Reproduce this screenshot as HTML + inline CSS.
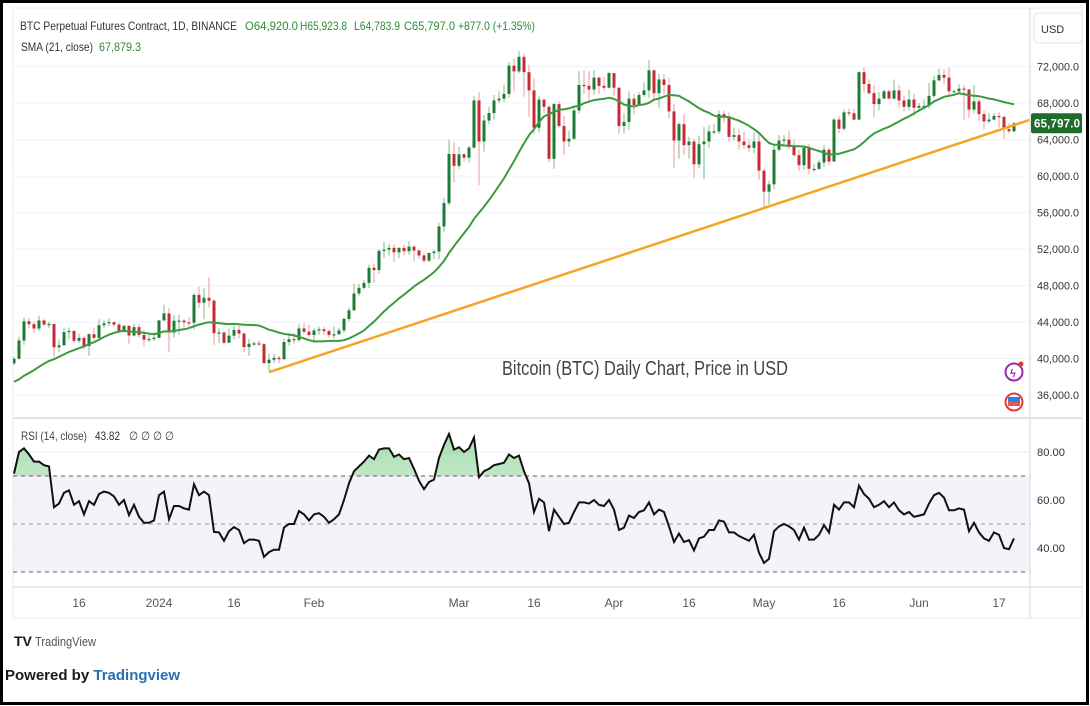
<!DOCTYPE html>
<html><head><meta charset="utf-8"><style>
html,body{margin:0;padding:0;background:#fff;}
body{width:1090px;height:706px;overflow:hidden;position:relative;font-family:"Liberation Sans",sans-serif;}
svg{position:absolute;left:0;top:0;}
</style></head><body>
<svg id="chart" width="1090" height="706" viewBox="0 0 1090 706">
<defs>
<linearGradient id="ob" x1="0" y1="0" x2="0" y2="1"><stop offset="0" stop-color="#3cb44b" stop-opacity="0.45"/><stop offset="1" stop-color="#3cb44b" stop-opacity="0.03"/></linearGradient>
<clipPath id="above70"><rect x="13" y="418" width="1017" height="58"/></clipPath>
<clipPath id="pricepane"><rect x="13" y="8" width="1017" height="409"/></clipPath>
</defs>
<rect x="1.5" y="1.5" width="1086" height="702" fill="#fff" stroke="#000" stroke-width="3"/>
<rect x="13" y="8" width="1069" height="610" fill="#fff" stroke="#e6e8ee" stroke-width="1"/>
<g id="grid"></g>
<rect x="13" y="476" width="1017" height="96" fill="#7e57c2" fill-opacity="0.08"/>
<g id="rsigrid"></g>
<g id="candles" clip-path="url(#pricepane)"></g>
<path id="sma" fill="none" stroke="#3b9a3f" stroke-width="2"/>
<line id="trend" stroke="#f7a325" stroke-width="2.5"/>
<path id="rsiFill" fill="url(#ob)" clip-path="url(#above70)"/>
<path id="rsiLine" fill="none" stroke="#111" stroke-width="2"/>
<line x1="13" y1="418" x2="1082" y2="418" stroke="#e0e3eb" stroke-width="2"/>
<line x1="13" y1="587" x2="1082" y2="587" stroke="#e0e3eb" stroke-width="1.5"/>
<line x1="1030" y1="8" x2="1030" y2="618" stroke="#e0e3eb" stroke-width="1.5"/>
<g id="axisLabels" font-size="11" fill="#333"></g>
<g id="timeLabels" font-size="12" fill="#555"></g>
<rect x="1034" y="13" width="48" height="30" rx="4" fill="#fff" stroke="#e0e3eb"/>
<text x="1041" y="33" font-size="11" fill="#333">USD</text>
<rect id="lastBox" x="1031" y="113" width="51" height="20" rx="2" fill="#1f6b2b"/>
<text id="lastText" x="1034" y="127" font-size="11.5" font-weight="bold" fill="#fff" textLength="46">65,797.0</text>
<g font-size="12">
<text x="20" y="30" fill="#333" textLength="217" lengthAdjust="spacingAndGlyphs">BTC Perpetual Futures Contract, 1D, BINANCE</text>
<text x="245" y="30" fill="#2e8b3a" textLength="53" lengthAdjust="spacingAndGlyphs">O64,920.0</text>
<text x="300" y="30" fill="#2e8b3a" textLength="47" lengthAdjust="spacingAndGlyphs">H65,923.8</text>
<text x="354" y="30" fill="#2e8b3a" textLength="46" lengthAdjust="spacingAndGlyphs">L64,783.9</text>
<text x="404" y="30" fill="#2e8b3a" textLength="51" lengthAdjust="spacingAndGlyphs">C65,797.0</text>
<text x="458" y="30" fill="#2e8b3a" textLength="77" lengthAdjust="spacingAndGlyphs">+877.0 (+1.35%)</text>
<text x="21" y="51" fill="#333" textLength="72" lengthAdjust="spacingAndGlyphs">SMA (21, close)</text>
<text x="99" y="51" fill="#2e8b3a" textLength="42" lengthAdjust="spacingAndGlyphs">67,879.3</text>
</g>
<text x="502" y="375" font-size="20" fill="#444" textLength="286" lengthAdjust="spacingAndGlyphs" font-family="'Liberation Sans Narrow','Liberation Sans',sans-serif">Bitcoin (BTC) Daily Chart, Price in USD</text>
<g><circle cx="1014" cy="372" r="8.5" fill="#fff" stroke="#9c27b0" stroke-width="2"/><text x="1010" y="377" font-size="11" fill="#9c27b0" font-weight="bold">ϟ</text><circle cx="1021" cy="364" r="2.5" fill="#e53935"/></g>
<g><circle cx="1014" cy="402" r="8.5" fill="#fff" stroke="#e53935" stroke-width="2"/><rect x="1008" y="397" width="12" height="5" fill="#1e88e5"/><rect x="1008" y="402" width="12" height="4" fill="#ef5350"/></g>
<text x="21" y="440" font-size="12" fill="#444" textLength="66" lengthAdjust="spacingAndGlyphs">RSI (14, close)</text>
<text x="95" y="440" font-size="12" fill="#333" textLength="25" lengthAdjust="spacingAndGlyphs">43.82</text>
<text x="129" y="440" font-size="12" fill="#444" textLength="45" lengthAdjust="spacingAndGlyphs">∅ ∅ ∅ ∅</text>
<g><text x="14" y="646" font-size="14" font-weight="bold" fill="#131722">TV</text><text x="35" y="646" font-size="13" fill="#555" textLength="61" lengthAdjust="spacingAndGlyphs">TradingView</text></g>
<text x="5" y="680" font-size="15" font-weight="bold" fill="#1a1a1a">Powered by <tspan fill="#2a6fb5">Tradingview</tspan></text>
</svg>
<script>
var NS="http://www.w3.org/2000/svg";
var closes=[39970,41980,44080,43770,43290,44170,43720,43790,41240,41450,42890,43020,41940,42260,41370,42660,42270,43650,43860,43990,43720,43010,43580,42520,43440,42580,42070,42140,42280,
44180,44950,42850,44150,44160,43970,43930,46970,46120,46660,46340,42780,42850,41730,42510,43140,42740,41260,41620,41660,41570,39500,39870,40080,39930,41810,42120,42030,43300,42940,42580,
43080,43200,43010,42580,42660,43090,44340,45290,47130,47750,48290,49950,49700,51800,51930,52130,51650,52130,51770,52260,51850,51300,50730,51570,51730,54480,57040,62430,61130,
62390,62030,63130,68300,63800,66100,66920,68300,68500,69020,72120,71480,73080,71400,69400,65300,68390,67600,61900,67900,65500,63800,64100,67200,70000,69900,69500,70800,69900,69700,71300,
69700,65500,65950,68500,67800,68900,69400,71600,69100,70600,70000,67100,63900,65700,63400,63800,61300,63500,63800,64900,64900,66800,66400,64300,64500,63800,63400,63100,63800,60600,
58300,59100,62900,63900,64000,63200,62300,61200,63100,60800,60800,61500,62900,61600,66200,65200,67000,66900,66200,71400,70100,69100,67900,68500,69300,68500,69400,68300,67600,68400,67500,
67700,67700,68800,70500,71100,70800,69300,69300,69600,69500,67300,68200,66800,66000,66200,66600,66500,65150,64920,65797];
var highs=[40200,42400,44500,44400,44000,44700,44300,44000,43800,42100,43400,43400,43100,42700,42450,42800,43400,44300,44200,44400,44000,43900,43700,43700,43800,43800,43100,42600,42900,
44200,45900,45500,44800,44800,44300,44500,47200,47900,47700,48900,46500,43300,43000,43300,43600,43600,42900,42200,41900,42000,41700,40500,40500,40300,42200,42800,42800,43800,43900,43700,
43300,43500,43500,43200,43500,43400,44500,45600,48200,48200,48600,50300,50400,52000,52800,52600,52500,52200,52500,52900,52400,52000,51500,51600,51900,54900,57600,64000,63700,
63200,62500,63300,68800,69200,66700,67600,68900,69300,70000,72500,72900,73700,73400,72200,70700,68800,68400,67800,68000,68200,66600,65000,67600,71500,71600,71500,71600,70900,70900,71400,
71300,69700,66900,69300,69000,69200,70300,72700,71700,71200,71200,70800,67900,65900,66800,64300,64100,64400,65400,65600,65700,67200,67200,67000,65300,65200,64900,64000,64800,64700,
60800,59500,63400,64500,64500,65000,64000,62900,63300,63500,61300,61800,63400,63100,66400,66600,67300,67400,67400,71500,71900,70600,70000,69200,69500,69500,70600,70000,68800,69500,69000,
68000,68400,70200,71000,71800,71700,71900,69500,70100,70000,69600,70000,68500,67200,66900,66900,67000,66600,65800,65923];
var lows=[39300,39900,41500,43300,42800,43000,43600,43300,40200,40700,41400,42100,41700,41700,41000,40300,42000,42200,43300,43600,43500,42800,42800,41600,42400,42300,41300,41800,41900,
42200,44100,40700,42300,42600,43400,43500,43200,45500,44300,45600,41500,41700,41500,41700,42100,42200,40700,40300,41400,41400,39400,38600,39500,39500,39800,41400,41600,41800,42700,42300,
41900,42600,42600,42300,42200,42600,42800,44100,45200,46900,47600,47700,48300,49300,51000,51300,50600,51000,51300,51400,50700,50900,50500,50600,50900,50900,53900,56800,59300,
60800,61600,61500,63000,59000,62700,65700,66200,68000,68100,68600,69300,71300,68700,66500,64600,64800,66900,61500,60800,65300,62300,63200,64000,66900,69000,68300,68900,69000,69400,69600,
68800,64600,64700,65100,66800,67700,68700,68600,68200,67500,69000,66300,60900,61900,62300,61900,59800,60900,59700,63100,64600,64600,65900,63800,63900,62900,63000,62600,62500,59600,
56500,56900,58600,62700,63400,62900,62100,60600,60700,60200,60500,60700,61000,61200,61600,64700,65000,66600,66100,66100,69200,68900,66500,67200,68500,68600,68400,67500,67100,67200,66600,
67300,67300,67400,68600,70400,70100,68700,69200,69100,66200,66400,66900,66100,65100,65800,66100,65300,64100,64700,64783];
var firstOpen=39460;
var priorCloses=[36480,35550,37880,36160,36590,36590,37380,37470,35810,37420,37290,37720,37800,37480,37250,37830,37860,37720,38690,39460];
var rsiValues=[71,80,81.5,79,76,76,74.5,74,57,58.5,63,64,58,59.5,54,59.5,58,62.5,63.5,63,61.5,58,60,53.7,58,53,50.5,50.5,51.5,62,63.5,52,57.5,57.5,56.5,56,66.6,62,63.5,62,46.7,46.5,43,47,48.7,47.5,42,43.5,43.5,43,36.3,38.3,39.3,39.3,48.5,50,50,55.4,54,51.5,54,54.5,53,50.5,52,54,60,67,72,74,76,78.5,77,81,81.5,81.5,78,79,77,77.5,73,68,64.5,67.5,68.5,77.5,83,87.5,81,82,80,81.5,86,69.5,72,73,74.5,75,75.5,79,77.5,78.5,72,67,55,60.5,59,47,56,53,50,50.5,55,59,59,58.5,60,58,57.5,60,56,47.5,48.5,53.5,52.5,55,55.7,59,54,56,55,49,42.5,46,42.5,43.3,39,44,44.7,47.5,47.5,51.5,51,46.5,46.5,45,44,43,45.5,38,33.8,35.5,47,49,50,49,47.5,43.5,48.5,43.5,43.5,45.5,49.5,46.5,58,56,59,59,57,66,62.5,60.5,57,58,59.5,57,59,55.7,54,55,53,53.5,54,58.5,62,63,61,55.7,55.7,56.5,56,47,50.5,46.5,44,43,46.5,45.5,40,39.5,44];
var priceTicks=[72000,68000,64000,60000,56000,52000,48000,44000,40000,36000];
var priceTickLabels=["72,000.0","68,000.0","64,000.0","60,000.0","56,000.0","52,000.0","48,000.0","44,000.0","40,000.0","36,000.0"];
var rsiTicks=[80,60,40];
var rsiTickLabels=["80.00","60.00","40.00"];
var rsiLevels=[70,50,30];
var timeTickIdx=[13,29,44,60,89,104,120,135,150,165,181,197];
var timeTickLabels=["16","2024","16","Feb","Mar","16","Apr","16","May","16","Jun","17"];
var trendIdx=[51,150];
var trendPrice=[38500,56500];
var smaPeriod=21;

function xOf(i){return 14+i*5;}
function yP(p){return 66.7+(72000-p)*(328.3/36000);}
function yR(v){return 452+(80-v)*2.4;}
function mk(tag,attrs,parent){var e=document.createElementNS(NS,tag);for(var k in attrs)e.setAttribute(k,attrs[k]);parent.appendChild(e);return e;}

var grid=document.getElementById('grid');
var axl=document.getElementById('axisLabels');
priceTicks.forEach(function(p,k){
  var l=mk('line',{x1:13,x2:1030,y1:yP(p),y2:yP(p),stroke:'#f0f3fa','stroke-width':1},grid);
  
  
  var t=mk('text',{x:1037,y:yP(p)+4,textLength:42,lengthAdjust:'spacingAndGlyphs'},axl);
  t.textContent=priceTickLabels[k];
  
  
});
var rg=document.getElementById('rsigrid');
rsiTicks.forEach(function(v,k){
  var l=mk('line',{x1:13,x2:1030,y1:yR(v),y2:yR(v),stroke:'#eceef4','stroke-width':1},rg);
  
  
  var t=mk('text',{x:1037,y:yR(v)+4,textLength:28,lengthAdjust:'spacingAndGlyphs'},axl);
  t.textContent=rsiTickLabels[k];
  
  
});
rsiLevels.forEach(function(v){
  var l=mk('line',{x1:13,x2:1030,y1:yR(v),y2:yR(v),stroke:(v===50?'#aaa':'#787b86'),'stroke-width':1.2,'stroke-dasharray':'4 4'},rg);
  
  
});
var tl=document.getElementById('timeLabels');
timeTickIdx.forEach(function(i,k){
  var t=mk('text',{x:xOf(i),y:607,'text-anchor':'middle'},tl);
  t.textContent=timeTickLabels[k];
  
  
});

var cg=document.getElementById('candles');
for(var i=0;i<closes.length;i++){
  var o=i===0?firstOpen:closes[i-1], c=closes[i];
  var h=Math.max(highs[i]||c,o,c), lo=Math.min(lows[i]||c,o,c);
  var up=c>=o, col=up?'#1e7b34':'#c62b35', wcol=up?'#7fb98a':'#e79aa0';
  var x=xOf(i);
  var w=mk('line',{x1:x,x2:x,y1:yP(h),y2:yP(lo),stroke:wcol,'stroke-width':1},cg);
  
  
  var yt=yP(Math.max(o,c)), yb=yP(Math.min(o,c));
  var b=mk('rect',{x:x-1.5,y:yt,width:3,height:Math.max(1.2,yb-yt),fill:col},cg);
  
  
}
// SMA 21
var all=priorCloses.concat(closes), d='';
for(var i=0;i<closes.length;i++){
  var j=i+priorCloses.length, s=0, n=0;
  for(var k=Math.max(0,j-smaPeriod+1);k<=j;k++){s+=all[k];n++;}
  d+=(i?'L':'M')+xOf(i)+' '+yP(s/n).toFixed(1);
}
document.getElementById('sma').setAttribute('d',d);
// trendline
var slope=(trendPrice[1]-trendPrice[0])/(trendIdx[1]-trendIdx[0]);
var endIdx=(1030-14)/5;
var tr=document.getElementById('trend');
tr.setAttribute('x1',xOf(trendIdx[0]));tr.setAttribute('y1',yP(trendPrice[0]));
tr.setAttribute('x2',xOf(endIdx));tr.setAttribute('y2',yP(trendPrice[0]+slope*(endIdx-trendIdx[0])));
// last price box
var ly=yP(closes[closes.length-1]);
document.getElementById('lastBox').setAttribute('y',ly-10);
document.getElementById('lastText').setAttribute('y',ly+4);
// RSI
var rd='';
rsiValues.forEach(function(v,i){rd+=(i?'L':'M')+xOf(i)+' '+yR(v).toFixed(1);});
document.getElementById('rsiLine').setAttribute('d',rd);
document.getElementById('rsiFill').setAttribute('d',rd+'L'+xOf(rsiValues.length-1)+' '+yR(70)+'L'+xOf(0)+' '+yR(70)+'Z');
</script>
</body></html>
